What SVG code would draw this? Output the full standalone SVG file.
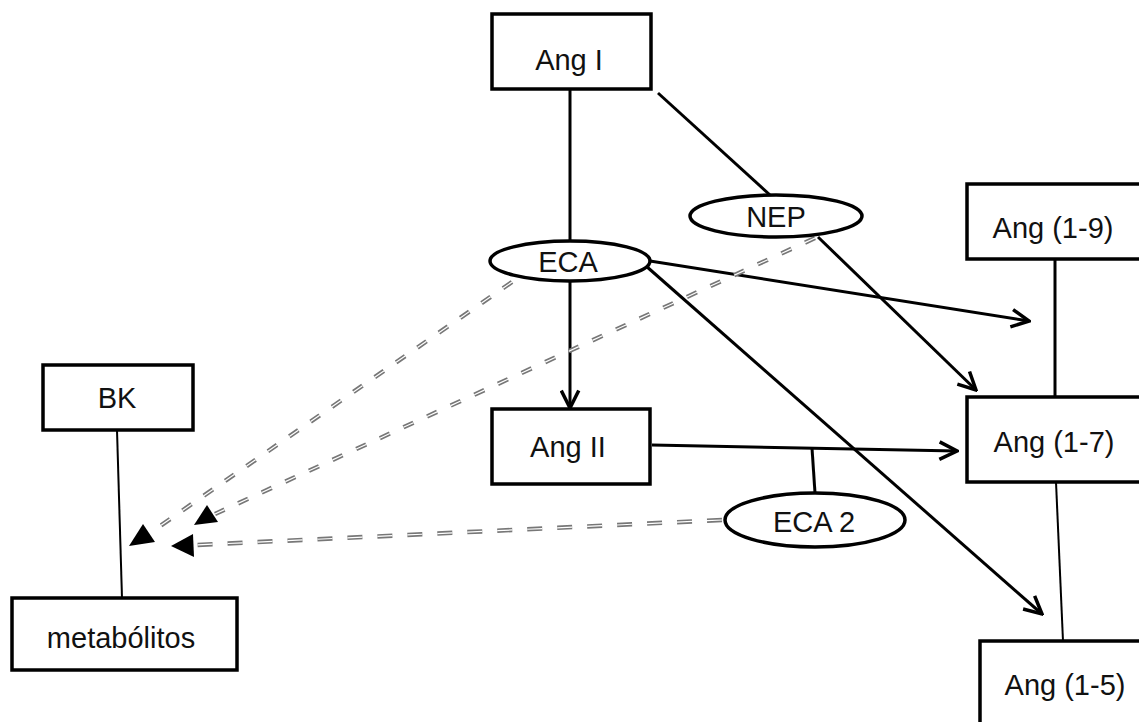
<svg xmlns="http://www.w3.org/2000/svg" width="1139" height="722" viewBox="0 0 1139 722">
<defs>
<style>
.box{fill:#fff;stroke:#000;stroke-width:3.5}
.ell{fill:#fff;stroke:#000;stroke-width:3.5}
.lbl{font-family:"Liberation Sans",Arial,sans-serif;font-size:29px;fill:#111;text-anchor:middle}
.ln{stroke:#000;stroke-width:3;fill:none}
.thin{stroke:#000;stroke-width:2;fill:none}
.dash{stroke:#777;stroke-width:4.5;stroke-dasharray:11 15;fill:none}
.dashin{stroke:#fff;stroke-width:1.2;stroke-dasharray:11 15;fill:none}
.dashh{stroke:#777;stroke-width:4.5;stroke-dasharray:15 15;fill:none}
.dashhin{stroke:#fff;stroke-width:1.2;stroke-dasharray:15 15;fill:none}
</style>
<marker id="open" viewBox="0 0 12 12" refX="11" refY="6" markerWidth="7" markerHeight="7" markerUnits="strokeWidth" orient="auto">
<path d="M1,1 L11,6 L1,11" fill="none" stroke="#000" stroke-width="2"/>
</marker>
</defs>
<g id="connectors">
<line class="ln" x1="570" y1="89" x2="570" y2="240"/>
<line class="ln" x1="570" y1="280" x2="570" y2="408" marker-end="url(#open)"/>
<line class="ln" x1="658" y1="93" x2="770" y2="195"/>
<line class="ln" x1="818" y1="237" x2="976" y2="390" marker-end="url(#open)"/>
<line class="ln" x1="650" y1="261" x2="1029" y2="321" marker-end="url(#open)"/>
<line class="ln" x1="646" y1="266" x2="1042" y2="614" marker-end="url(#open)"/>
<line class="ln" x1="652" y1="445" x2="957" y2="451" marker-end="url(#open)"/>
<line class="ln" x1="812" y1="448" x2="815" y2="493"/>
<line class="ln" x1="1055" y1="259" x2="1055" y2="397"/>
<line class="thin" x1="1056" y1="482" x2="1063" y2="641"/>
<line class="thin" x1="117" y1="430" x2="122" y2="598"/>
<path class="dash" d="M512,282 L150,533"/>
<path class="dashin" d="M512,282 L150,533"/>
<path d="M129,546 L143,524 L155,542 Z" fill="#000"/>
<path class="dash" d="M815,238 L215,514"/>
<path class="dashin" d="M815,238 L215,514"/>
<path d="M194,525 L207,505 L218,522 Z" fill="#000"/>
<path class="dashh" d="M722,520 L196,545"/>
<path class="dashhin" d="M722,520 L196,545"/>
<path d="M171,546 L193,534 L194,557 Z" fill="#000"/>
</g>
<g id="angI"><rect class="box" x="492" y="14" width="159" height="75"/><text class="lbl" x="569" y="70">Ang I</text></g>
<g id="eca"><ellipse class="ell" cx="570" cy="261" rx="80" ry="20"/><text class="lbl" x="568" y="272">ECA</text></g>
<g id="nep"><ellipse class="ell" cx="776" cy="216" rx="86" ry="21"/><text class="lbl" x="776" y="227">NEP</text></g>
<g id="angII"><rect class="box" x="492" y="409" width="158" height="75"/><text class="lbl" x="568" y="457">Ang II</text></g>
<g id="eca2"><ellipse class="ell" cx="815" cy="520" rx="90" ry="27"/><text class="lbl" x="814" y="532">ECA 2</text></g>
<g id="ang19"><rect class="box" x="967" y="184" width="180" height="75"/><text class="lbl" x="1053" y="238">Ang (1-9)</text></g>
<g id="ang17"><rect class="box" x="967" y="397" width="180" height="85"/><text class="lbl" x="1054" y="452">Ang (1-7)</text></g>
<g id="ang15"><rect class="box" x="980" y="641" width="170" height="90"/><text class="lbl" x="1065" y="695">Ang (1-5)</text></g>
<g id="bk"><rect class="box" x="43" y="365" width="150" height="65"/><text class="lbl" x="117" y="408">BK</text></g>
<g id="metabolitos"><rect class="box" x="12" y="598" width="225" height="72"/><text class="lbl" x="121" y="648">metabólitos</text></g>
</svg>
